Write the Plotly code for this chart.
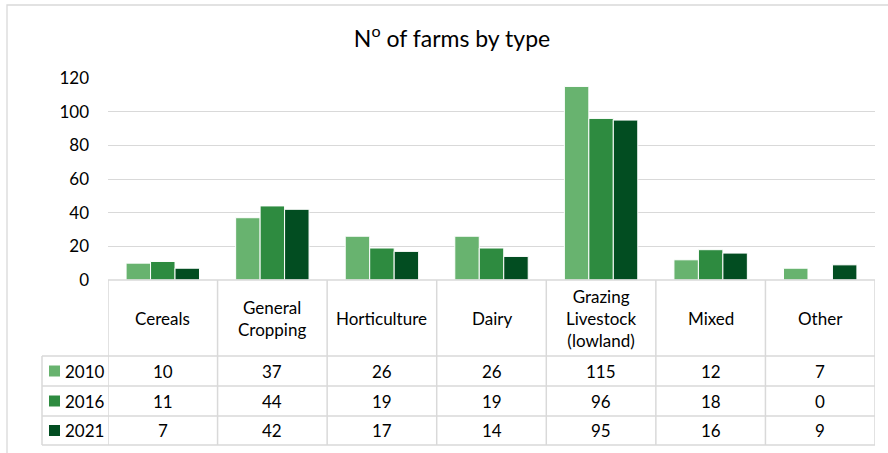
import plotly.graph_objects as go

categories = ["Cereals", "General<br>Cropping", "Horticulture", "Dairy",
              "Grazing<br>Livestock<br>(lowland)", "Mixed", "Other"]
series_names = ["2010", "2016", "2021"]
values_2010 = [10, 37, 26, 26, 115, 12, 7]
values_2016 = [11, 44, 19, 19, 96, 18, 0]
values_2021 = [7, 42, 17, 14, 95, 16, 9]
y_ticks = [0, 20, 40, 60, 80, 100, 120]

series_values = [values_2010, values_2016, values_2021]
colors = ["#68B36F", "#2E8B40", "#024D21"]

W, H = 888, 453
FONT = "Lato"
FS = 17
GRID = "#D9D9D9"

def py(pix):  # pixel y (from top) -> paper y
    return (H - pix) / H

def px(pix):
    return pix / W

x_idx = list(range(len(categories)))

fig = go.Figure()
for name, vals, col in zip(series_names, series_values, colors):
    fig.add_trace(go.Bar(x=x_idx, y=vals, name=name,
                         marker=dict(color=col, line=dict(color="white", width=1))))

plot_left, plot_right = 108, 875
y_top, y_zero = 78, 280
row_edges = [280, 356, 386, 416, 445]
legend_left = 42

fig.update_layout(
    width=W, height=H,
    margin=dict(l=0, r=0, t=0, b=0, pad=0),
    paper_bgcolor="white", plot_bgcolor="white",
    barmode="group", bargap=0.33, bargroupgap=0,
    showlegend=False,
    font=dict(family=FONT, size=FS, color="#000000"),
    title=dict(text="N<sup>o</sup> of farms by type", x=452 / W, xanchor="center",
               y=py(39), yanchor="middle", font=dict(family=FONT, size=23, color="#000")),
    xaxis=dict(domain=[px(plot_left), px(plot_right)], range=[-0.5, len(categories) - 0.5],
               showticklabels=False, showgrid=False, zeroline=False, showline=False,
               fixedrange=True, automargin=False),
    yaxis=dict(domain=[py(y_zero), py(y_top)], range=[0, 120], tickvals=y_ticks,
               showgrid=True, gridcolor=GRID, gridwidth=1.3, zeroline=False, showline=False,
               ticks="", ticklabelstandoff=18, automargin=False, fixedrange=True,
               tickfont=dict(family=FONT, size=FS, color="#000")),
)

shapes = []
# chart border
shapes.append(dict(type="rect", xref="paper", yref="paper", x0=px(7), x1=1.02,
                   y0=-0.02, y1=py(5), line=dict(color=GRID, width=1.3), fillcolor="rgba(0,0,0,0)"))
# horizontal table lines
for i, yy in enumerate(row_edges):
    x0 = plot_left if i == 0 else legend_left
    shapes.append(dict(type="line", xref="paper", yref="paper", x0=px(x0), x1=px(plot_right),
                       y0=py(yy), y1=py(yy), line=dict(color=GRID, width=1.5)))
# vertical table lines at category boundaries
for k in range(len(categories) + 1):
    shapes.append(dict(type="line", xref="x", yref="paper", x0=k - 0.5, x1=k - 0.5,
                       y0=py(row_edges[-1]), y1=py(row_edges[0]), line=dict(color=GRID, width=1.5)))
shapes.append(dict(type="line", xref="paper", yref="paper", x0=px(legend_left), x1=px(legend_left),
                   y0=py(row_edges[-1]), y1=py(row_edges[1]), line=dict(color=GRID, width=1.5)))

annotations = []
# category header labels
for k, cat in enumerate(categories):
    annotations.append(dict(xref="x", yref="paper", x=k, y=py((row_edges[0] + row_edges[1]) / 2),
                            text=cat, showarrow=False, xanchor="center", yanchor="middle",
                            font=dict(family=FONT, size=FS, color="#000")))
# rows
for r, (name, vals, col) in enumerate(zip(series_names, series_values, colors)):
    yc = (row_edges[r + 1] + row_edges[r + 2]) / 2
    shapes.append(dict(type="rect", xref="paper", yref="paper", x0=px(49), x1=px(60),
                       y0=py(yc + 5.5), y1=py(yc - 5.5), fillcolor=col, line=dict(width=0)))
    annotations.append(dict(xref="paper", yref="paper", x=px(63), y=py(yc), text=name,
                            showarrow=False, xanchor="left", yanchor="middle",
                            font=dict(family=FONT, size=FS, color="#000")))
    for k, v in enumerate(vals):
        annotations.append(dict(xref="x", yref="paper", x=k, y=py(yc), text=str(v),
                                showarrow=False, xanchor="center", yanchor="middle",
                                font=dict(family=FONT, size=FS, color="#000")))

fig.update_layout(shapes=shapes, annotations=annotations)
fig.write_html("out.html", config={"displayModeBar": False},
               post_script="document.body.style.margin='0';document.body.style.overflow='hidden';")
